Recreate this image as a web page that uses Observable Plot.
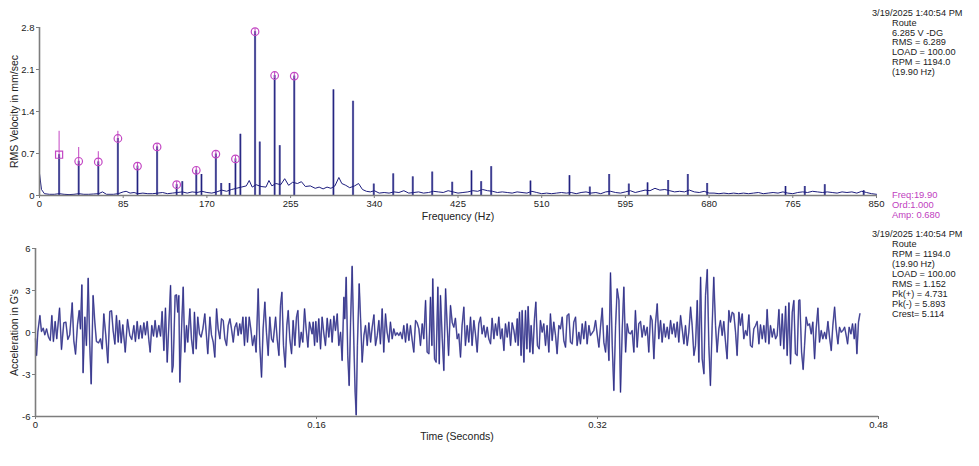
<!DOCTYPE html>
<html>
<head>
<meta charset="utf-8">
<script src="https://cdn.jsdelivr.net/npm/d3@7"></script>
<script src="https://cdn.jsdelivr.net/npm/@observablehq/plot@0.6"></script>
<style>
  html, body { margin: 0; padding: 0; background: #fff; }
  #wrap { position: relative; width: 979px; height: 466px; overflow: hidden; font-family: "Liberation Sans", Arial, sans-serif; }
  #wrap svg { position: absolute; left: 0; }
  .info { position: absolute; font-size: 9.2px; color: #222; white-space: pre; }
  .info div { height: 9.8px; line-height: 9.8px; }
  .info.b div { height: 10px; line-height: 10px; }
  .cursor { position: absolute; font-size: 9.4px; color: #c040c0; white-space: pre; }
  .cursor div { height: 10px; line-height: 10px; }
</style>
</head>
<body>
<div id="wrap"></div>
<script>
// ---------- Spectrum (top) ----------
const freqTicks = [0, 85, 170, 255, 340, 425, 510, 595, 680, 765, 850];
const velTicks = [0, 0.7, 1.4, 2.1, 2.8];

// noise floor of the spectrum [Hz, mm/s]
const spectrumFloor = [[0,0.37],[2,0.1],[5,0.03],[10,0.02],[15,0.02],[20,0.03],[25,0.02],[30,0.015],[35,0.02],[40,0.03],[45,0.02],[50,0.02],[55,0.025],[60,0.03],[64,0.06],[68,0.02],[75,0.02],[80,0.03],[85,0.06],[88,0.07],[92,0.04],[96,0.05],[100,0.03],[105,0.04],[110,0.03],[115,0.03],[120,0.04],[125,0.05],[130,0.03],[135,0.04],[140,0.05],[145,0.06],[150,0.04],[155,0.06],[160,0.05],[165,0.07],[170,0.05],[175,0.04],[180,0.06],[185,0.09],[190,0.07],[195,0.1],[200,0.12],[205,0.14],[210,0.16],[213,0.25],[216,0.14],[220,0.18],[225,0.15],[230,0.14],[233,0.25],[236,0.16],[240,0.2],[245,0.18],[249,0.28],[253,0.17],[257,0.22],[262,0.2],[266,0.23],[270,0.15],[275,0.16],[280,0.12],[284,0.14],[288,0.11],[292,0.14],[296,0.12],[300,0.16],[304,0.3],[307,0.2],[311,0.17],[315,0.13],[320,0.16],[324,0.2],[328,0.1],[332,0.07],[336,0.06],[340,0.08],[345,0.04],[350,0.05],[355,0.04],[360,0.06],[365,0.05],[370,0.08],[375,0.04],[380,0.05],[385,0.06],[390,0.04],[395,0.05],[400,0.07],[405,0.06],[410,0.05],[415,0.08],[420,0.06],[425,0.04],[430,0.05],[435,0.06],[440,0.08],[445,0.07],[450,0.1],[455,0.08],[460,0.07],[465,0.05],[470,0.06],[475,0.05],[480,0.04],[485,0.06],[490,0.05],[495,0.04],[500,0.07],[505,0.05],[510,0.03],[515,0.04],[520,0.03],[525,0.04],[530,0.05],[535,0.04],[540,0.05],[545,0.03],[550,0.05],[555,0.06],[560,0.04],[565,0.05],[570,0.03],[575,0.06],[580,0.07],[585,0.05],[590,0.04],[595,0.06],[600,0.08],[605,0.05],[610,0.07],[615,0.09],[620,0.08],[625,0.12],[630,0.09],[635,0.1],[640,0.08],[645,0.06],[650,0.07],[655,0.06],[660,0.09],[665,0.06],[670,0.05],[675,0.07],[680,0.04],[685,0.04],[690,0.03],[695,0.04],[700,0.03],[705,0.04],[710,0.03],[715,0.04],[720,0.03],[725,0.04],[730,0.05],[735,0.03],[740,0.04],[745,0.05],[750,0.04],[755,0.06],[760,0.04],[765,0.03],[770,0.05],[775,0.06],[780,0.05],[785,0.07],[790,0.06],[795,0.05],[800,0.06],[805,0.05],[810,0.04],[815,0.06],[820,0.05],[825,0.06],[830,0.04],[835,0.07],[840,0.05],[845,0.03],[850,0.02]];

// running-speed harmonics (1x..13x of 19.90 Hz) with marker stems
const harmFreq = [19.9, 39.8, 59.7, 79.6, 99.5, 119.4, 139.3, 159.2, 179.1, 199.0, 218.9, 238.8, 258.7];
const harmAmp  = [0.68, 0.57, 0.56, 0.95, 0.49, 0.81, 0.18, 0.42, 0.69, 0.61, 2.73, 2.00, 1.99];
const harmStemTop = [1.07, 0.80, 0.73, 1.07, 0.54, 0.86, 0.23, 0.47, 0.74, 0.66, 2.78, 2.05, 2.04];
const harmStemBottom = [0.63, 0.52, 0.51, 0.90, 0.44, 0.76, 0.13, 0.37, 0.64, 0.56, 2.68, 1.95, 1.94];

// other discrete peaks [Hz, mm/s]
const otherPeaks = [[145,0.23],[164.5,0.35],[184.5,0.2],[193,0.2],[204,1.02],[223.7,0.89],[244,0.83],[298.5,1.76],[318.4,1.57],[339.5,0.19],[359.2,0.36],[379.1,0.31],[398.8,0.39],[419.1,0.22],[438.7,0.41],[448.5,0.23],[458.7,0.48],[498.6,0.24],[538.2,0.33],[558.9,0.14],[578.5,0.35],[598.5,0.19],[617.5,0.21],[638.4,0.25],[658.4,0.35],[678,0.2],[757.6,0.15],[777.2,0.15],[797.5,0.18],[837,0.08]];

const infoTop = ["3/19/2025 1:40:54 PM", "Route", "6.285 V -DG", "RMS = 6.289", "LOAD = 100.00", "RPM = 1194.0", "(19.90 Hz)"];
const cursorText = ["Freq:19.90", "Ord:1.000", "Amp: 0.680"];

// ---------- Waveform (bottom) ----------
const timeTicks = [0, 0.16, 0.32, 0.48];
const accTicks = [-6, -3, 0, 3, 6];
const infoBottom = ["3/19/2025 1:40:54 PM", "Route", "RPM = 1194.0", "(19.90 Hz)", "LOAD = 100.00", "RMS = 1.152", "Pk(+) = 4.731", "Pk(-) = 5.893", "Crest= 5.114"];

// [seconds, G]
const wave = [[0.0000,-0.45],[0.0006,-1.64],[0.0013,0.02],[0.0025,1.21],[0.0034,0.07],[0.0044,0.31],[0.0053,-0.17],[0.0063,0.26],[0.0074,-0.33],[0.0084,-0.57],[0.0093,1.21],[0.0102,-0.64],[0.0112,0.79],[0.0121,-0.45],[0.0137,1.74],[0.0148,-1.21],[0.0161,0.69],[0.0173,0.74],[0.0184,-0.50],[0.0195,-0.17],[0.0209,2.12],[0.0218,-0.57],[0.0228,-1.55],[0.0239,0.55],[0.0249,1.57],[0.0256,0.26],[0.0264,3.40],[0.0271,-2.88],[0.0281,1.10],[0.0290,-0.93],[0.0300,3.88],[0.0309,-0.93],[0.0317,-3.67],[0.0328,2.64],[0.0338,0.69],[0.0347,-0.64],[0.0359,-0.74],[0.0370,-0.45],[0.0380,-1.17],[0.0389,1.33],[0.0400,-0.17],[0.0412,-2.17],[0.0423,1.50],[0.0433,1.55],[0.0442,0.14],[0.0452,-0.83],[0.0461,1.21],[0.0471,-0.69],[0.0478,0.86],[0.0488,-0.74],[0.0497,0.55],[0.0511,-1.40],[0.0524,0.93],[0.0537,-0.21],[0.0548,-0.50],[0.0560,0.50],[0.0569,-0.64],[0.0579,0.79],[0.0588,-0.45],[0.0598,0.50],[0.0607,-0.40],[0.0617,0.69],[0.0626,-0.17],[0.0636,0.79],[0.0645,-0.50],[0.0653,-1.40],[0.0662,0.50],[0.0672,-0.26],[0.0681,0.86],[0.0691,-0.33],[0.0702,0.50],[0.0712,-0.26],[0.0721,1.50],[0.0731,-1.29],[0.0740,1.74],[0.0750,-2.12],
[0.0769,3.36],[0.0778,-2.83],[0.0784,-2.36],[0.0795,2.64],[0.0803,2.69],[0.0810,1.45],[0.0816,2.64],[0.0822,-3.55],[0.0833,0.74],[0.0841,3.24],[0.0850,-1.40],[0.0860,0.50],[0.0867,-0.69],[0.0879,1.69],[0.0888,-0.45],[0.0898,-1.52],[0.0905,1.45],[0.0915,-1.17],[0.0924,1.10],[0.0934,-0.10],[0.0943,-0.33],[0.0953,0.26],[0.0964,1.33],[0.0974,-0.33],[0.0981,-1.52],[0.0993,1.10],[0.1002,-0.17],[0.1012,-0.69],[0.1021,-1.76],[0.1031,1.69],[0.1040,0.26],[0.1050,-0.45],[0.1059,0.98],[0.1069,0.86],[0.1078,-0.45],[0.1088,-0.93],[0.1097,0.50],[0.1107,0.98],[0.1116,0.26],[0.1126,-0.69],[0.1135,0.38],[0.1145,0.69],[0.1154,-0.21],[0.1163,0.62],[0.1171,-0.10],[0.1181,1.10],[0.1190,-0.93],[0.1198,1.10],[0.1207,-0.69],[0.1217,1.10],[0.1226,0.26],[0.1236,-0.93],[0.1247,-0.21],[0.1256,-1.40],[0.1268,3.12],[0.1277,-0.93],[0.1287,-3.19],[0.1296,0.26],[0.1306,2.17],[0.1315,0.02],[0.1325,-1.64],[0.1334,1.10],[0.1344,-0.45],[0.1353,-0.69],[0.1367,1.10],[0.1376,-0.45],[0.1386,-1.64],[0.1395,1.93],[0.1403,2.88],[0.1412,-0.93],[0.1422,-2.48],[0.1431,0.50],[0.1439,1.57],[0.1448,-0.45],[0.1458,-1.52],[0.1467,0.86],[0.1477,-0.93],[0.1486,1.10],[0.1494,1.57],[0.1503,-1.05],[0.1513,0.02],[0.1522,-0.69],[0.1532,1.69],[0.1541,0.26],[0.1551,-1.05],[0.1560,0.74],
[0.1575,-0.10],[0.1581,0.74],[0.1589,-0.93],[0.1596,0.79],[0.1604,-0.69],[0.1613,0.98],[0.1623,-1.17],[0.1632,1.10],[0.1642,-0.10],[0.1651,-0.93],[0.1661,1.02],[0.1670,-0.33],[0.1680,0.93],[0.1689,-0.69],[0.1699,1.17],[0.1708,0.14],[0.1718,1.33],[0.1727,-0.93],[0.1737,0.02],[0.1746,-2.00],[0.1756,2.52],[0.1761,0.98],[0.1769,3.95],[0.1778,-1.64],[0.1786,-3.79],[0.1794,0.74],[0.1803,4.73],[0.1813,-0.93],[0.1820,-4.26],[0.1826,-5.89],[0.1833,-0.93],[0.1843,3.48],[0.1851,0.98],[0.1860,-2.12],[0.1870,-0.21],[0.1879,0.50],[0.1889,-0.93],[0.1898,0.69],[0.1908,-0.69],[0.1917,0.38],[0.1927,1.26],[0.1936,-0.93],[0.1946,-0.21],[0.1955,0.86],[0.1964,-0.81],[0.1974,1.69],[0.1983,-1.40],[0.1993,1.33],[0.2002,0.02],[0.2012,-0.69],[0.2021,0.74],[0.2031,-0.45],[0.2040,0.26],[0.2050,-0.21],[0.2059,-0.02],[0.2069,-0.21],[0.2078,0.02],[0.2088,-0.45],[0.2097,0.50],[0.2107,-0.69],[0.2116,0.62],[0.2126,-0.57],[0.2135,0.50],[0.2145,-0.57],[0.2154,-1.40],[0.2164,0.86],[0.2173,0.69],[0.2183,0.26],[0.2192,-0.93],[0.2202,0.62],[0.2211,-0.45],[0.2221,2.29],[0.2230,-1.40],[0.2240,-1.52],[0.2249,2.52],[0.2257,-0.93],[0.2262,3.83],[0.2272,-1.88],[0.2281,-2.12],[0.2291,3.24],[0.2299,-2.24],[0.2306,2.64],[0.2316,-0.45],[0.2325,-2.71],[0.2335,3.12],[0.2344,0.50],[0.2352,-1.64],[0.2363,1.93],
[0.2373,0.69],[0.2382,0.38],[0.2391,1.02],[0.2401,-0.45],[0.2410,-0.10],[0.2420,-1.76],[0.2429,0.50],[0.2439,1.81],[0.2448,-0.93],[0.2458,0.50],[0.2467,-0.69],[0.2477,1.10],[0.2486,-0.93],[0.2496,0.86],[0.2505,-0.10],[0.2515,-1.40],[0.2524,0.62],[0.2534,1.10],[0.2543,-0.10],[0.2553,0.50],[0.2562,-0.33],[0.2572,0.38],[0.2581,-0.45],[0.2591,-0.81],[0.2600,1.02],[0.2610,-0.45],[0.2619,0.62],[0.2629,-0.21],[0.2638,1.10],[0.2648,-0.45],[0.2657,0.26],[0.2667,-1.29],[0.2676,0.62],[0.2686,-0.33],[0.2695,0.74],[0.2705,-0.93],[0.2714,0.69],[0.2724,0.14],[0.2733,-0.69],[0.2743,0.98],[0.2748,-0.93],[0.2756,1.45],[0.2765,-1.64],[0.2771,1.57],[0.2781,-2.12],[0.2790,1.57],[0.2798,-1.17],[0.2805,1.86],[0.2815,-1.40],[0.2822,0.50],[0.2832,-1.52],[0.2841,0.98],[0.2849,2.17],[0.2858,-0.93],[0.2868,-1.17],[0.2875,0.86],[0.2885,0.02],[0.2894,0.62],[0.2904,-0.93],[0.2913,0.50],[0.2923,-1.40],[0.2932,1.33],[0.2942,-0.57],[0.2951,0.74],[0.2961,-0.21],[0.2970,-1.52],[0.2980,0.50],[0.2989,0.26],[0.2999,1.10],[0.3008,-0.57],[0.3018,-1.05],[0.3027,1.21],[0.3037,1.33],[0.3046,-0.69],[0.3056,-0.81],[0.3065,0.74],[0.3075,1.10],[0.3084,-0.93],[0.3094,0.02],[0.3103,-0.81],[0.3113,0.62],[0.3122,-0.45],[0.3132,0.79],[0.3141,-0.81],[0.3151,0.50],
[0.3160,-0.21],[0.3179,0.14],[0.3189,0.86],[0.3198,-0.10],[0.3208,-1.05],[0.3217,0.38],[0.3227,1.74],[0.3236,-0.69],[0.3246,-1.40],[0.3255,0.50],[0.3265,-2.00],[0.3274,4.26],[0.3284,-0.93],[0.3293,-4.14],[0.3303,0.50],[0.3312,3.12],[0.3322,2.29],[0.3331,-4.26],[0.3341,0.26],[0.3350,3.24],[0.3360,-1.40],[0.3369,0.62],[0.3378,-0.02],[0.3388,-0.10],[0.3397,0.14],[0.3407,-1.40],[0.3416,1.57],[0.3426,-1.05],[0.3435,0.62],[0.3445,0.79],[0.3454,-0.33],[0.3464,0.50],[0.3473,-0.21],[0.3483,0.38],[0.3492,-1.40],[0.3502,1.21],[0.3511,0.86],[0.3521,-1.88],[0.3530,0.62],[0.3540,2.05],[0.3549,-0.45],[0.3559,0.86],[0.3568,-0.69],[0.3578,0.62],[0.3587,-0.33],[0.3597,0.38],[0.3606,-0.45],[0.3616,0.86],[0.3625,-0.10],[0.3635,0.62],[0.3644,-0.33],[0.3654,0.74],[0.3663,-0.69],[0.3673,1.21],[0.3682,0.26],[0.3692,-0.81],[0.3701,0.50],[0.3711,-0.93],[0.3720,0.02],[0.3730,1.81],[0.3739,0.50],[0.3749,-1.64],[0.3758,-0.93],[0.3768,2.29],[0.3777,-2.12],[0.3787,3.95],[0.3796,-1.88],[0.3806,-2.95],[0.3815,2.64],[0.3825,4.50],[0.3834,-0.93],[0.3843,-3.79],[0.3853,0.50],[0.3862,3.95],[0.3872,0.50],[0.3881,-1.40],[0.3891,0.26],[0.3900,0.86],[0.3910,-0.21],[0.3919,0.79],[0.3929,-0.69],[0.3938,-1.88],[0.3948,1.57],[0.3957,0.74],[0.3967,1.45],
[0.3976,1.33],[0.3986,0.02],[0.3995,-1.64],[0.4005,1.45],[0.4014,0.50],[0.4024,1.33],[0.4033,-0.45],[0.4043,0.14],[0.4052,-0.21],[0.4062,1.26],[0.4071,-0.93],[0.4081,-1.05],[0.4090,0.26],[0.4100,0.50],[0.4109,0.79],[0.4119,-0.81],[0.4128,0.55],[0.4138,-0.45],[0.4147,0.50],[0.4157,-0.69],[0.4166,1.64],[0.4176,-0.81],[0.4185,0.50],[0.4195,-0.33],[0.4204,0.26],[0.4214,-0.45],[0.4223,-0.21],[0.4233,1.64],[0.4242,-0.93],[0.4252,1.33],[0.4261,-1.17],[0.4271,1.88],[0.4280,-1.64],[0.4290,2.12],[0.4299,-2.24],[0.4309,1.45],[0.4318,2.29],[0.4327,-1.52],[0.4337,-1.64],[0.4346,2.29],[0.4352,2.33],[0.4362,-1.40],[0.4371,-2.64],[0.4379,-0.93],[0.4388,1.10],[0.4398,0.50],[0.4407,0.62],[0.4417,-0.10],[0.4426,0.74],[0.4436,-1.88],[0.4445,0.26],[0.4455,1.74],[0.4464,-0.69],[0.4474,0.14],[0.4483,-0.45],[0.4493,0.02],[0.4502,-0.45],[0.4512,0.79],[0.4521,-0.33],[0.4531,-1.29],[0.4540,0.50],[0.4550,1.81],[0.4559,0.26],[0.4569,-0.81],[0.4578,0.38],[0.4588,0.02],[0.4597,0.14],[0.4607,0.38],[0.4616,-0.21],[0.4624,-0.81],[0.4633,0.38],[0.4643,-0.10],[0.4652,0.62],[0.4662,-0.45],[0.4669,0.62],[0.4677,-1.52],[0.4686,0.74],[0.4694,1.33]];

// ---------- build ----------
const FONT = "'Liberation Sans', Arial, sans-serif";
const NAVY = "#1e1e7e";
const LAV = "#8585bb";
const MAG = "#c346c3";
const AXIS = "#7d7d7d";

const harm = harmFreq.map((f, i) => ({f, a: harmAmp[i], top: harmStemTop[i], bot: harmStemBottom[i]}));
const peaks = otherPeaks.map(([f, a]) => ({f, a})).concat(harm.map(d => ({f: d.f, a: d.a})));

const topChart = Plot.plot({
  width: 979, height: 225,
  marginLeft: 39, marginRight: 103, marginTop: 27, marginBottom: 30,
  style: {fontFamily: FONT, fontSize: "9.5px", color: "#222", background: "transparent", overflow: "visible"},
  x: {domain: [0, 850]},
  y: {domain: [0, 2.8]},
  marks: [
    Plot.ruleX(peaks, {x: "f", y1: 0, y2: "a", stroke: LAV, strokeWidth: 2.2}),
    Plot.ruleX(peaks, {x: "f", y1: 0, y2: "a", stroke: NAVY, strokeWidth: 1}),
    Plot.line(spectrumFloor, {x: d => d[0], y: d => d[1], stroke: NAVY, strokeWidth: 1}),
    Plot.ruleX(harm, {x: "f", y1: "bot", y2: "top", stroke: MAG, strokeWidth: 1}),
    Plot.dot(harm.slice(0, 1), {x: "f", y: "a", symbol: "square", r: 4, stroke: MAG, strokeWidth: 1.2}),
    Plot.dot(harm.slice(1), {x: "f", y: "a", r: 3.8, stroke: MAG, strokeWidth: 1.2}),
    Plot.ruleX([0], {stroke: AXIS, strokeWidth: 1.6}),
    Plot.ruleY([0], {stroke: AXIS, strokeWidth: 1.6}),
    Plot.axisX({ticks: freqTicks, tickFormat: d => String(d), tickSize: 3, tickPadding: 2, stroke: AXIS, fill: "#222", label: null}),
    Plot.axisY({ticks: velTicks, tickFormat: d => String(d), tickSize: 3, tickPadding: 2, stroke: AXIS, fill: "#222", label: null}),
    Plot.text(["Frequency (Hz)"], {frameAnchor: "bottom", lineAnchor: "middle", dy: 21, fontSize: 10.5, fill: "#222"}),
    Plot.text(["RMS Velocity in mm/sec"], {frameAnchor: "left", textAnchor: "middle", lineAnchor: "middle", dx: -25, rotate: -90, fontSize: 10.5, fill: "#222"})
  ]
});
topChart.style.top = "0px";

const bottomChart = Plot.plot({
  width: 979, height: 241,
  marginLeft: 35, marginRight: 101, marginTop: 23, marginBottom: 50,
  style: {fontFamily: FONT, fontSize: "9.5px", color: "#222", background: "transparent", overflow: "visible"},
  x: {domain: [0, 0.48]},
  y: {domain: [-6, 6]},
  marks: [
    Plot.line(wave, {x: d => d[0], y: d => d[1], stroke: LAV, strokeWidth: 1.6}),
    Plot.line(wave, {x: d => d[0], y: d => d[1], stroke: NAVY, strokeWidth: 0.75, strokeOpacity: 0.9}),
    Plot.ruleX([0], {stroke: AXIS, strokeWidth: 1.6}),
    Plot.ruleY([-6], {stroke: AXIS, strokeWidth: 1.6}),
    Plot.axisX({ticks: timeTicks, tickFormat: d => String(d), tickSize: 3, tickPadding: 2, stroke: AXIS, fill: "#222", label: null}),
    Plot.axisY({ticks: accTicks, tickFormat: d => String(d), tickSize: 3, tickPadding: 2, stroke: AXIS, fill: "#222", label: null}),
    Plot.text(["Time (Seconds)"], {frameAnchor: "bottom", lineAnchor: "middle", dy: 20, fontSize: 10.5, fill: "#222"}),
    Plot.text(["Acceleration in G's"], {frameAnchor: "left", textAnchor: "middle", lineAnchor: "middle", dx: -21, rotate: -90, fontSize: 10.5, fill: "#222"})
  ]
});
bottomChart.style.top = "225px";

const wrap = document.getElementById("wrap");
wrap.appendChild(topChart);
wrap.appendChild(bottomChart);

function block(lines, cls, left, topPx, firstLeft) {
  const el = document.createElement("div");
  el.className = cls;
  el.style.left = left + "px";
  el.style.top = topPx + "px";
  lines.forEach((t, i) => {
    const d = document.createElement("div");
    d.textContent = t;
    if (i === 0 && firstLeft !== undefined) d.style.marginLeft = (firstLeft - left) + "px";
    el.appendChild(d);
  });
  wrap.appendChild(el);
}
block(infoTop, "info", 892, 9, 872);
block(infoBottom, "info b", 892, 229, 872);
block(cursorText, "cursor", 892, 190);
</script>
</body>
</html>
